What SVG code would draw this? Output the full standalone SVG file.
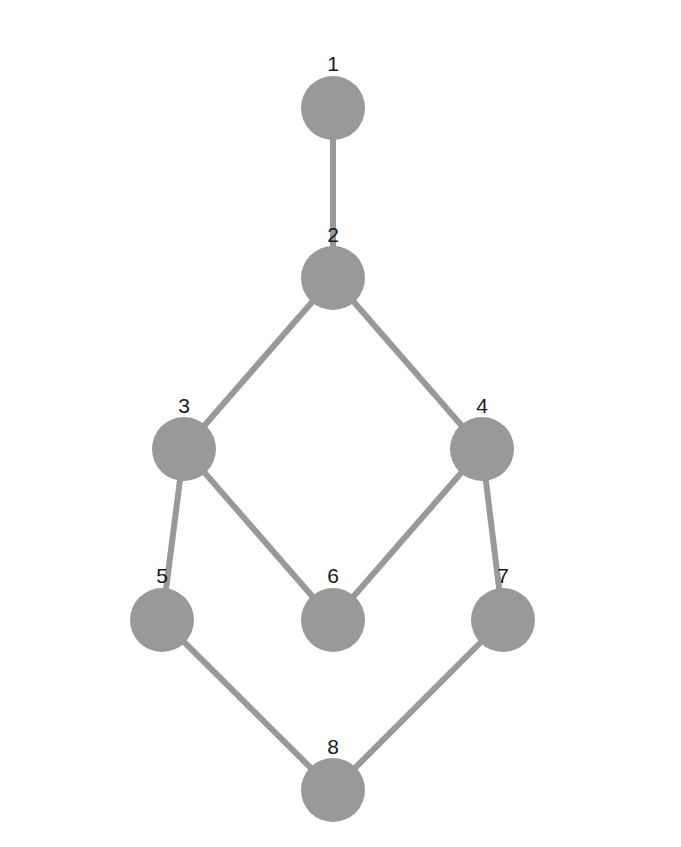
<svg xmlns="http://www.w3.org/2000/svg" width="681" height="847" viewBox="0 0 681 847">
<style>
.edge{stroke:#999999;stroke-width:6;fill:none}
.node circle{fill:#999999}
.node text{font-family:"Liberation Sans",Arial,sans-serif;font-size:21px;fill:#1a1a1a;text-anchor:middle}
</style>
<rect width="681" height="847" fill="#ffffff"/>
<g id="edges">
<line class="edge" x1="333" y1="108" x2="333" y2="278"/>
<line class="edge" x1="333" y1="278" x2="184" y2="449"/>
<line class="edge" x1="333" y1="278" x2="482" y2="449"/>
<line class="edge" x1="184" y1="449" x2="162" y2="620"/>
<line class="edge" x1="184" y1="449" x2="333" y2="620"/>
<line class="edge" x1="482" y1="449" x2="333" y2="620"/>
<line class="edge" x1="482" y1="449" x2="503" y2="620"/>
<line class="edge" x1="162" y1="620" x2="333" y2="790"/>
<line class="edge" x1="503" y1="620" x2="333" y2="790"/>
</g>
<g id="node1" class="node"><circle cx="333" cy="108" r="32"/><text x="333" y="71">1</text></g>
<g id="node2" class="node"><circle cx="333" cy="278" r="32"/><text x="333" y="242">2</text></g>
<g id="node3" class="node"><circle cx="184" cy="449" r="32"/><text x="184" y="413">3</text></g>
<g id="node4" class="node"><circle cx="482" cy="449" r="32"/><text x="482" y="413">4</text></g>
<g id="node5" class="node"><circle cx="162" cy="620" r="32"/><text x="162" y="583">5</text></g>
<g id="node6" class="node"><circle cx="333" cy="620" r="32"/><text x="333" y="583">6</text></g>
<g id="node7" class="node"><circle cx="503" cy="620" r="32"/><text x="503" y="583">7</text></g>
<g id="node8" class="node"><circle cx="333" cy="790" r="32"/><text x="333" y="754">8</text></g>
</svg>
